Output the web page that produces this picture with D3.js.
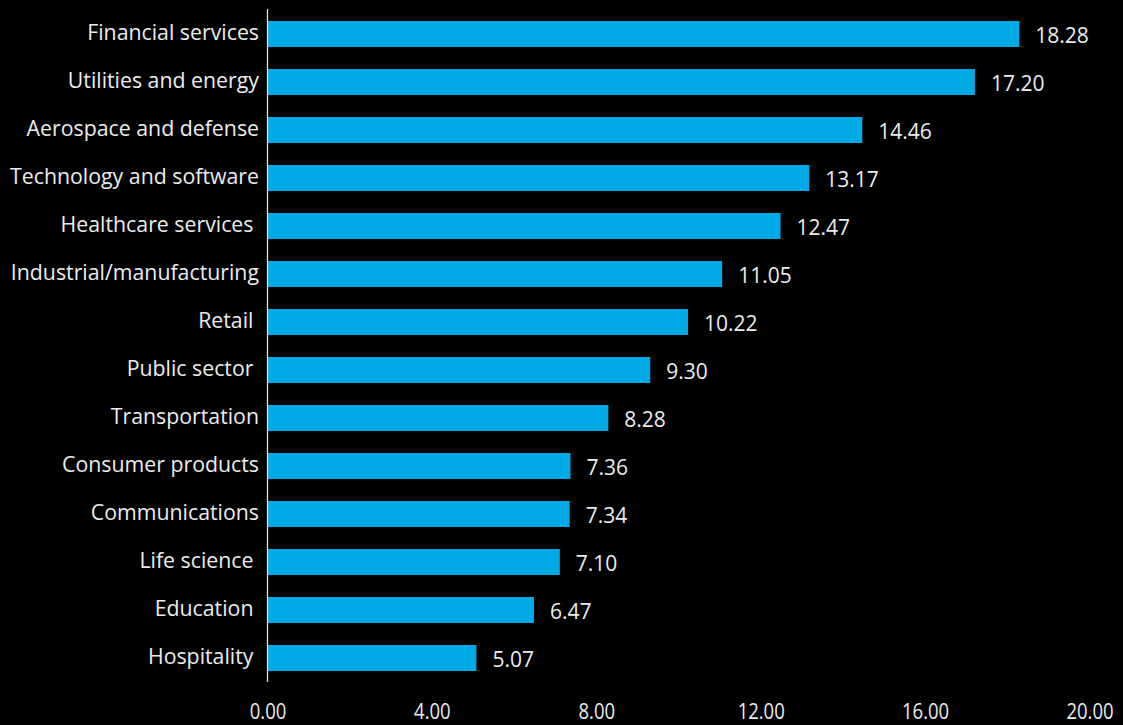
<!DOCTYPE html>
<html>
<head>
<meta charset="utf-8">
<script src="https://cdn.jsdelivr.net/npm/d3@7"></script>
<style>
  html, body { margin: 0; padding: 0; background: #000; overflow: hidden; }
  svg { display: block; font-family: "Open Sans", sans-serif; }
  text { white-space: pre; }
</style>
</head>
<body>
<div id="chart"></div>
<script>
// data (some source labels carry a trailing space)
const categories = [
  "Financial services", "Utilities and energy", "Aerospace and defense",
  "Technology and software", "Healthcare services ", "Industrial/manufacturing",
  "Retail ", "Public sector ", "Transportation", "Consumer products",
  "Communications", "Life science ", "Education ", "Hospitality "
];
const values = [18.28, 17.20, 14.46, 13.17, 12.47, 11.05, 10.22, 9.30, 8.28, 7.36, 7.34, 7.10, 6.47, 5.07];
const tickValues = [0, 4, 8, 12, 16, 20];

const width = 1123, height = 725;
const dataset = categories.map((c, i) => ({ cat: c, v: values[i] }));

const svg = d3.select("#chart").append("svg")
  .attr("width", width)
  .attr("height", height);

svg.append("rect").attr("width", width).attr("height", height).attr("fill", "#000");

const x = d3.scaleLinear().domain([0, 20]).range([268, 1090]);
const y = d3.scaleBand().domain(categories).range([10, 682])
  .paddingInner(0.458).paddingOuter(0.229);

// bars
svg.selectAll(".bar")
  .data(dataset)
  .enter().append("rect")
  .attr("class", "bar")
  .attr("x", x(0))
  .attr("y", d => y(d.cat))
  .attr("width", d => x(d.v) - x(0))
  .attr("height", y.bandwidth())
  .attr("fill", "#00aae6");

// value labels
svg.selectAll(".val")
  .data(dataset)
  .enter().append("text")
  .attr("x", d => x(d.v) + 16)
  .attr("y", d => y(d.cat) + y.bandwidth() / 2 + 1)
  .attr("dy", "0.36em")
  .attr("fill", "#ececec")
  .attr("font-size", 21)
  .text(d => d.v.toFixed(2));

// category labels
svg.selectAll(".cat")
  .data(dataset)
  .enter().append("text")
  .attr("x", 259)
  .attr("y", d => y(d.cat) + y.bandwidth() / 2 - 2)
  .attr("dy", "0.36em")
  .attr("text-anchor", "end")
  .attr("fill", "#ececec")
  .attr("font-size", 21.3)
  .text(d => d.cat);

// vertical axis line
svg.append("line")
  .attr("x1", 267.5).attr("x2", 267.5)
  .attr("y1", 9).attr("y2", 682)
  .attr("stroke", "#e0e0e0")
  .attr("stroke-width", 1.3);

// x tick labels (no axis line)
svg.selectAll(".tick")
  .data(tickValues)
  .enter().append("text")
  .attr("x", d => x(d))
  .attr("y", 719)
  .attr("text-anchor", "middle")
  .attr("fill", "#ececec")
  .attr("font-size", 21)
  .attr("transform-origin", d => x(d) + "px 719px")
  .attr("transform", "scale(0.88,1)")
  .text(d => d.toFixed(2));
</script>
</body>
</html>
